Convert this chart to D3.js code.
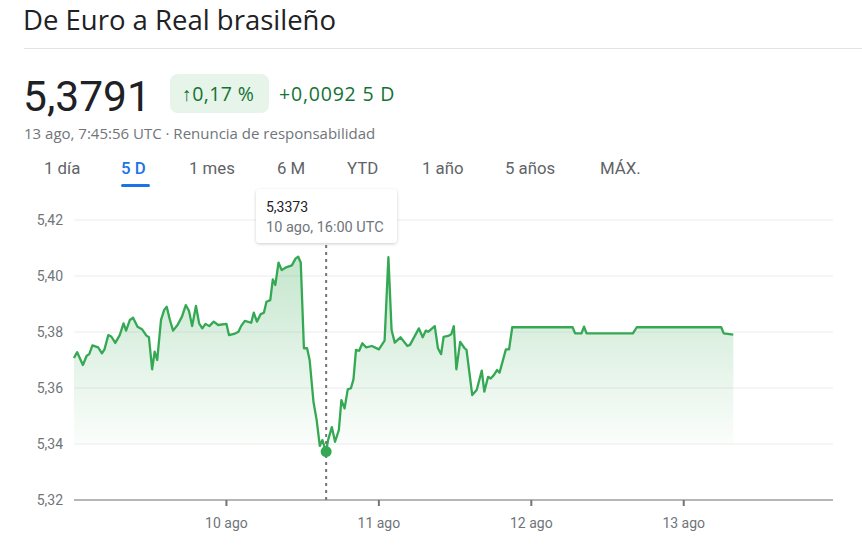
<!DOCTYPE html>
<html lang="es"><head>
<meta charset="utf-8">
<title>EUR a BRL</title>
<script type="text/javascript" src="https://cdn.jsdelivr.net/npm/d3@7"></script>
<style type="text/css">
  body { margin: 0; background: #fff; }
  text { font-family: Roboto, "Noto Sans", Arial, sans-serif; }
  .wide { font-family: "Open Sans", "Noto Sans", sans-serif; }
</style>
</head>
<body>
<svg width="862" height="547"></svg>
<script type="text/javascript">

// hours since 9 ago 00:00 UTC, and EUR/BRL rate
var hours = [0, 0.5, 1.4, 2.0, 2.4, 2.9, 3.8, 4.4, 4.8, 5.4, 5.9, 6.5, 7.2, 7.8, 8.2, 8.8, 9.3, 10.0, 10.7, 11.4, 11.8,
  12.3, 12.7, 13.1, 13.7, 14.2, 14.6, 15.1, 15.6, 16.3, 17.0, 17.6, 18.1, 18.6, 19.2, 19.7, 20.2, 20.7, 21.3, 22.0, 22.7,
  24.0, 24.4, 25.2, 25.9, 26.3, 26.9, 27.9, 28.3, 28.8, 29.4, 29.9, 30.3, 30.9, 31.3, 31.7, 32.2, 32.7, 33.4, 34.3, 34.9,
  35.3, 35.7, 36.2, 36.7, 37.1, 37.7, 38.2, 38.7, 39.1, 39.7, 40.0, 40.6, 41.1, 41.7, 42.1, 42.6, 43.1, 43.6, 44.0, 44.4,
  44.9, 45.4, 46.0, 46.9, 48.0, 48.9, 49.5, 50.0, 50.5, 51.4, 52.5, 52.9, 54.3, 54.9, 55.4, 55.8, 56.8, 57.3, 57.8, 58.2,
  58.9, 59.4, 59.8, 60.2, 60.8, 61.5, 61.8, 62.7, 63.4, 64.2, 64.6, 65.2, 65.6, 66.1, 66.6, 67.0, 68.0, 68.5, 69.0, 78.5,
  78.9, 79.9, 80.3, 80.7, 88.0, 88.6, 101.9, 102.3, 103.8];
var rates = [5.3707, 5.3728, 5.3682, 5.3715, 5.3721, 5.3752, 5.3745, 5.3724, 5.3738, 5.3789, 5.3783, 5.3761, 5.3789, 5.3831, 5.3805, 5.3843, 5.3851, 5.3819, 5.3810, 5.3787, 5.3781,
  5.3667, 5.3730, 5.3700, 5.3843, 5.3879, 5.3890, 5.3843, 5.3805, 5.3825, 5.3855, 5.3896, 5.3876, 5.3821, 5.3893, 5.3831, 5.3813, 5.3829, 5.3821, 5.3837, 5.3825,
  5.3829, 5.3789, 5.3793, 5.3801, 5.3821, 5.3840, 5.3833, 5.3869, 5.3837, 5.3864, 5.3869, 5.3908, 5.3914, 5.3988, 5.3968, 5.4048, 5.4021, 5.4031, 5.4038, 5.4063,
  5.4069, 5.4048, 5.3742, 5.3742, 5.3700, 5.3551, 5.3486, 5.3393, 5.3414, 5.3373, 5.3414, 5.3460, 5.3408, 5.3450, 5.3557, 5.3527, 5.3595, 5.3599, 5.3631, 5.3736,
  5.3733, 5.3760, 5.3745, 5.3750, 5.3738, 5.3769, 5.4067, 5.3807, 5.3762, 5.3781, 5.3750, 5.3754, 5.3813, 5.3781, 5.3805, 5.3801, 5.3821, 5.3742, 5.3721, 5.3783,
  5.3786, 5.3792, 5.3821, 5.3667, 5.3765, 5.3742, 5.3736, 5.3575, 5.3593, 5.3662, 5.3587, 5.3640, 5.3634, 5.3646, 5.3664, 5.3655, 5.3738, 5.3738, 5.3817, 5.3817,
  5.3795, 5.3795, 5.3819, 5.3795, 5.3795, 5.3817, 5.3817, 5.3795, 5.3791];

var yTicks = [5.32, 5.34, 5.36, 5.38, 5.40, 5.42];
var xTickDays = [10, 11, 12, 13];
var tabs = ["1 día", "5 D", "1 mes", "6 M", "YTD", "1 año", "5 años", "MÁX."];
var tabX = [44, 121, 189, 277, 347, 422, 505, 600];
var activeTab = "5 D";
var tipIndex = 70; // 10 ago, 16:00 UTC

var svg = d3.select("svg"),
    width = +svg.attr("width"),
    height = +svg.attr("height");

var es = d3.formatLocale({decimal: ",", thousands: ".", grouping: [3], currency: ["", " €"]});
var fmt2 = es.format(".2f"), fmt4 = es.format(".4f");

var t0 = Date.UTC(2024, 7, 9);
function toDate(h) { return new Date(t0 + h * 3600e3); }

var x = d3.scaleUtc()
    .domain([toDate(0), toDate(119.5)])
    .range([74, 833]);
var y = d3.scaleLinear()
    .domain([5.32, 5.42])
    .range([500, 220]);

var data = hours.map(function(h, i) { return {t: toDate(h), v: rates[i]}; });

// header
svg.append("text").attr("class", "wide").attr("x", 23).attr("y", 30)
    .attr("font-size", 27.5).attr("fill", "#202124")
    .text("De Euro a Real brasileño");
svg.append("line").attr("x1", 24).attr("x2", width).attr("y1", 48.5).attr("y2", 48.5)
    .attr("stroke", "#e3e3e3");

svg.append("text").attr("x", 23).attr("y", 111)
    .attr("font-size", 42.5).attr("fill", "#202124")
    .text(fmt4(rates[rates.length - 1]));

svg.append("rect").attr("x", 170).attr("y", 74).attr("width", 99).attr("height", 39)
    .attr("rx", 8).attr("fill", "#e6f4ea");
svg.append("text").attr("class", "wide").attr("x", 182).attr("y", 101)
    .attr("font-size", 19.5).attr("fill", "#137333")
    .attr("letter-spacing", 0.4)
    .text("↑0,17 %");
svg.append("text").attr("class", "wide").attr("x", 279).attr("y", 101)
    .attr("font-size", 19.5).attr("fill", "#137333").attr("font-weight", 500)
    .attr("letter-spacing", 0.8)
    .text("+0,0092 5 D");

svg.append("text").attr("class", "wide").attr("x", 24).attr("y", 139)
    .attr("font-size", 15).attr("fill", "#70757a")
    .text("13 ago, 7:45:56 UTC · Renuncia de responsabilidad");

// tabs
svg.selectAll(".tab")
  .data(tabs)
  .enter().append("text")
    .attr("class", "tab")
    .attr("x", function(d, i) { return tabX[i]; })
    .attr("y", 174)
    .attr("font-size", 16.8)
    .attr("font-weight", function(d) { return d == activeTab ? 500 : 400; })
    .attr("fill", function(d) { return d == activeTab ? "#1a73e8" : "#5f6368"; })
    .text(function(d) { return d; });
svg.append("rect").attr("x", 121).attr("y", 184).attr("width", 29).attr("height", 3)
    .attr("rx", 1.5).attr("fill", "#1a73e8");

// grid + y labels
svg.selectAll(".grid")
  .data(yTicks.slice(1))
  .enter().append("line")
    .attr("x1", 74).attr("x2", 833)
    .attr("y1", function(d) { return y(d); }).attr("y2", function(d) { return y(d); })
    .attr("stroke", "#ececec");
svg.selectAll(".ylab")
  .data(yTicks)
  .enter().append("text")
    .attr("x", 63).attr("y", function(d) { return y(d) + 5; })
    .attr("text-anchor", "end")
    .attr("font-size", 14).attr("fill", "#70757a")
    .text(function(d) { return fmt2(d); });

// area + line
var defs = svg.append("defs");
var grad = defs.append("linearGradient").attr("id", "fade")
    .attr("gradientUnits", "userSpaceOnUse")
    .attr("x1", 0).attr("x2", 0).attr("y1", y(5.41)).attr("y2", y(5.34));
grad.append("stop").attr("offset", 0).attr("stop-color", "#34a853").attr("stop-opacity", 0.3);
grad.append("stop").attr("offset", 1).attr("stop-color", "#34a853").attr("stop-opacity", 0.02);

svg.append("path").datum(data)
    .attr("fill", "url(#fade)")
    .attr("d", d3.area().x(function(d) { return x(d.t); }).y0(y(5.34)).y1(function(d) { return y(d.v); }));

svg.append("path").datum(data)
    .attr("fill", "none")
    .attr("stroke", "#34a853")
    .attr("stroke-width", 2.3)
    .attr("stroke-linejoin", "round")
    .attr("d", d3.line().x(function(d) { return x(d.t); }).y(function(d) { return y(d.v); }));

// x axis
svg.append("line").attr("x1", 74).attr("x2", 833).attr("y1", 500).attr("y2", 500)
    .attr("stroke", "#9e9e9e").attr("stroke-width", 1.5);
svg.selectAll(".xtick")
  .data(xTickDays)
  .enter().append("line")
    .attr("x1", function(d) { return x(Date.UTC(2024, 7, d)); })
    .attr("x2", function(d) { return x(Date.UTC(2024, 7, d)); })
    .attr("y1", 500).attr("y2", 506)
    .attr("stroke", "#70757a").attr("stroke-width", 2);
svg.selectAll(".xlab")
  .data(xTickDays)
  .enter().append("text")
    .attr("x", function(d) { return x(Date.UTC(2024, 7, d)); })
    .attr("y", 528)
    .attr("text-anchor", "middle")
    .attr("font-size", 14).attr("fill", "#70757a")
    .text(function(d) { return d + " ago"; });

// hover marker + tooltip
var tip = data[tipIndex];
svg.append("line")
    .attr("x1", x(tip.t)).attr("x2", x(tip.t)).attr("y1", 245).attr("y2", 500)
    .attr("stroke", "#70757a").attr("stroke-width", 2).attr("stroke-dasharray", "3,4");
svg.append("circle").attr("cx", x(tip.t)).attr("cy", y(tip.v)).attr("r", 5.5)
    .attr("fill", "#34a853");

var shadow = defs.append("filter").attr("id", "shadow").attr("x", "-20%").attr("y", "-20%").attr("width", "140%").attr("height", "160%");
shadow.append("feDropShadow").attr("dx", 0).attr("dy", 1).attr("stdDeviation", 1.5)
    .attr("flood-color", "#000").attr("flood-opacity", 0.2);
svg.append("rect").attr("x", 256).attr("y", 189).attr("width", 141).attr("height", 54)
    .attr("rx", 4).attr("fill", "#fff").attr("filter", "url(#shadow)");
svg.append("text").attr("x", 266).attr("y", 212)
    .attr("font-size", 14).attr("fill", "#202124")
    .text(fmt4(tip.v));
svg.append("text").attr("x", 266).attr("y", 232)
    .attr("font-size", 14.5).attr("fill", "#70757a")
    .text("10 ago, 16:00 UTC");

</script>
</body>
</html>
